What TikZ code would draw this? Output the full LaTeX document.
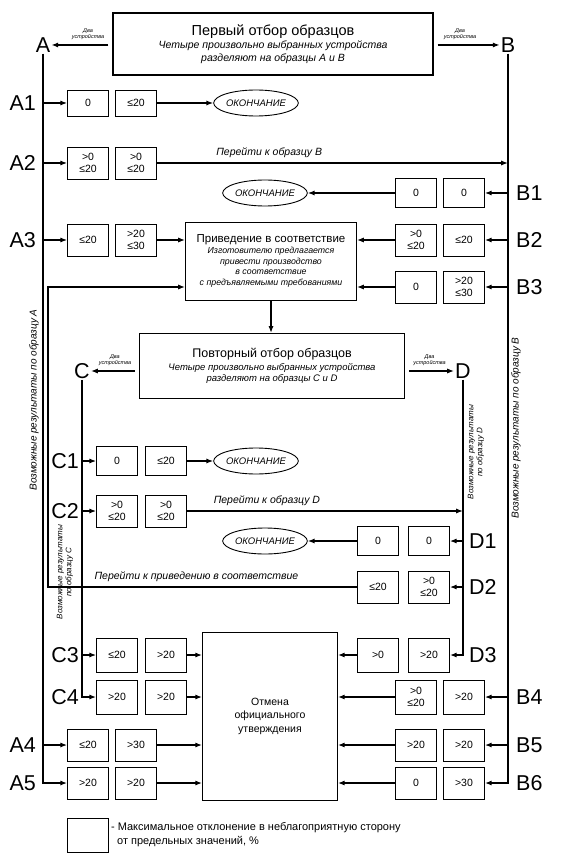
\documentclass[tikz,border=0pt]{standalone}
\usepackage{fontspec}
\setmainfont{Liberation Sans}
\usetikzlibrary{arrows.meta,shapes.geometric}

\begin{document}
\begin{tikzpicture}[x=1pt, y=-1pt,
    >={Latex[length=2.4mm, width=1.8mm]},
    sig/.style={->, line width=1.3pt},
    bus/.style={->, line width=1.6pt},
    val/.style={draw, line width=0.7pt, minimum width=41, minimum height=32,
                inner sep=1pt, align=center, font=\fontsize{10.5}{12}\selectfont},
    main/.style={draw, line width=1.2pt, align=center},
    fin/.style={draw, ellipse, line width=0.9pt, inner sep=0pt, minimum width=78,
                minimum height=26, font=\fontsize{9.5}{10}\selectfont\itshape},
    row/.style={font=\fontsize{21.5}{22}\selectfont, inner sep=1pt},
    hint/.style={font=\fontsize{10.5}{12}\selectfont\itshape},
    two/.style={font=\fontsize{5.5}{6.5}\selectfont\itshape, align=center},
    side/.style={font=\fontsize{10}{11}\selectfont\itshape, rotate=90, align=center},
    tiny/.style={font=\fontsize{8}{9}\selectfont\itshape, rotate=90, align=center},
  ]
  \useasboundingbox (0,0) rectangle (581,858);

  % first sampling
  \node[main, minimum width=320, minimum height=62, font=\fontsize{10.5}{12.5}\selectfont\itshape]
    (first) at (273,44) {{\upshape\fontsize{14.5}{17}\selectfont Первый отбор образцов}\\[1pt]
    Четыре произвольно выбранных устройства\\разделяют на образцы A и B};
  \node[row] (A) at (43,45) {A};
  \node[row] (B) at (508,45) {B};
  \draw[sig, shorten <=4pt] (first.west |- A) -- node[two, above=1pt, pos=0.4] {Два\\устройства} (A.east);
  \draw[sig, shorten <=4pt] (first.east |- B) -- node[two, above=1pt, pos=0.4] {Два\\устройства} (B.west);

  % sample A and sample B
  \node[row, anchor=east] (lA1) at (37,103) {A1};
  \node[val, minimum height=26] (a1l) at (88,103) {0};
  \node[val, minimum height=26] (a1r) at (136,103) {≤20};
  \node[fin] (endA) at (256,103) {ОКОНЧАНИЕ};

  \node[row, anchor=east] (lA2) at (37,163) {A2};
  \node[val] (a2l) at (88,163) {>0\\≤20};
  \node[val] (a2r) at (136,163) {>0\\≤20};

  \node[row, anchor=west] (lB1) at (515,193) {B1};
  \node[val, minimum height=29] (b1l) at (416,193) {0};
  \node[val, minimum height=29] (b1r) at (464,193) {0};
  \node[fin] (endB) at (265,193) {ОКОНЧАНИЕ};

  \node[row, anchor=east] (lA3) at (37,240) {A3};
  \node[val] (a3l) at (88,240) {≤20};
  \node[val] (a3r) at (136,240) {>20\\≤30};

  \node[row, anchor=west] (lB2) at (515,240) {B2};
  \node[val] (b2l) at (416,240) {>0\\≤20};
  \node[val] (b2r) at (464,240) {≤20};

  \node[row, anchor=west] (lB3) at (515,287) {B3};
  \node[val] (b3l) at (416,287) {0};
  \node[val] (b3r) at (464,287) {>20\\≤30};

  \node[main, line width=0.9pt, minimum width=171, minimum height=78,
        font=\fontsize{8.8}{10.6}\selectfont\itshape] (fix) at (271,261)
    {{\upshape\fontsize{11.5}{14}\selectfont Приведение в соответствие}\\
     Изготовителю предлагается\\привести производство\\в соответствие\\с предъявляемыми требованиями};

  % second sampling
  \node[main, minimum width=265, minimum height=65, font=\fontsize{9.5}{11.5}\selectfont\itshape]
    (second) at (272,366) {{\upshape\fontsize{12.5}{15}\selectfont Повторный отбор образцов}\\[1pt]
    Четыре произвольно выбранных устройства\\разделяют на образцы C и D};
  \node[row] (C) at (82,371) {C};
  \node[row] (D) at (463,371) {D};
  \draw[sig, shorten <=4pt] (second.west |- C) -- node[two, above=1pt] {Два\\устройства} (C.east);
  \draw[sig, shorten <=4pt] (second.east |- D) -- node[two, above=1pt] {Два\\устройства} (D.west);

  \node[row, anchor=east] (lC1) at (80,461) {C1};
  \node[val, minimum height=29] (c1l) at (117,461) {0};
  \node[val, minimum height=29] (c1r) at (166,461) {≤20};
  \node[fin] (endC) at (256,461) {ОКОНЧАНИЕ};

  \node[row, anchor=east] (lC2) at (80,511) {C2};
  \node[val] (c2l) at (117,511) {>0\\≤20};
  \node[val] (c2r) at (166,511) {>0\\≤20};

  \node[row, anchor=west] (lD1) at (468,541) {D1};
  \node[val, minimum height=29] (d1l) at (378,541) {0};
  \node[val, minimum height=29] (d1r) at (429,541) {0};
  \node[fin] (endD) at (265,541) {ОКОНЧАНИЕ};

  \node[row, anchor=west] (lD2) at (468,587) {D2};
  \node[val] (d2l) at (378,587) {≤20};
  \node[val] (d2r) at (429,587) {>0\\≤20};

  \node[row, anchor=east] (lC3) at (80,655) {C3};
  \node[val, minimum height=34] (c3l) at (117,655) {≤20};
  \node[val, minimum height=34] (c3r) at (166,655) {>20};

  \node[row, anchor=west] (lD3) at (468,655) {D3};
  \node[val, minimum height=34] (d3l) at (378,655) {>0};
  \node[val, minimum height=34] (d3r) at (429,655) {>20};

  \node[row, anchor=east] (lC4) at (80,697) {C4};
  \node[val, minimum height=34] (c4l) at (117,697) {>20};
  \node[val, minimum height=34] (c4r) at (166,697) {>20};

  \node[row, anchor=west] (lB4) at (515,697) {B4};
  \node[val, minimum height=34] (b4l) at (416,697) {>0\\≤20};
  \node[val, minimum height=34] (b4r) at (464,697) {>20};

  \node[row, anchor=east] (lA4) at (37,745) {A4};
  \node[val] (a4l) at (88,745) {≤20};
  \node[val] (a4r) at (136,745) {>30};

  \node[row, anchor=west] (lB5) at (515,745) {B5};
  \node[val] (b5l) at (416,745) {>20};
  \node[val] (b5r) at (464,745) {>20};

  \node[row, anchor=east] (lA5) at (37,783) {A5};
  \node[val] (a5l) at (88,783) {>20};
  \node[val] (a5r) at (136,783) {>20};

  \node[row, anchor=west] (lB6) at (515,783) {B6};
  \node[val] (b6l) at (416,783) {0};
  \node[val] (b6r) at (464,783) {>30};

  \node[main, line width=0.8pt, minimum width=135, minimum height=168,
        font=\fontsize{10.5}{13.5}\selectfont] (cancel) at (270,716)
    {Отмена\\официального\\утверждения};

  % side captions
  \node[side] (resA) at (34,400) {Возможные результаты по образцу A};
  \node[side] (resB) at (516,428) {Возможные результаты по образцу B};
  \node[tiny] (resD) at (476,452) {Возможные результаты\\по образцу D};
  \node[tiny] (resC) at (65,572) {Возможные результаты\\по образцу C};

  % buses
  \draw[bus] (A.south) |- (a5l.west);
  \draw[bus] (B.south) |- (b6r.east);
  \draw[bus] (C.south) |- (c4l.west);
  \draw[bus] (D.south) |- (d3r.east);
  \draw[sig] (A.south |- a1l) -- (a1l.west);
  \draw[sig] (A.south |- a2l) -- (a2l.west);
  \draw[sig] (A.south |- a3l) -- (a3l.west);
  \draw[sig] (A.south |- a4l) -- (a4l.west);
  \draw[sig] (B.south |- b1r) -- (b1r.east);
  \draw[sig] (B.south |- b2r) -- (b2r.east);
  \draw[sig] (B.south |- b3r) -- (b3r.east);
  \draw[sig] (B.south |- b4r) -- (b4r.east);
  \draw[sig] (B.south |- b5r) -- (b5r.east);
  \draw[sig] (C.south |- c1l) -- (c1l.west);
  \draw[sig] (C.south |- c2l) -- (c2l.west);
  \draw[sig] (C.south |- c3l) -- (c3l.west);
  \draw[sig] (D.south |- d1r) -- (d1r.east);
  \draw[sig] (D.south |- d2r) -- (d2r.east);

  % results
  \draw[sig] (a1r.east) -- (endA.west);
  \draw[sig] (b1l.west) -- (endB.east);
  \draw[sig] (c1r.east) -- (endC.west);
  \draw[sig] (d1l.west) -- (endD.east);
  \draw[sig] (a2r.east) -- node[hint, above=1pt, pos=0.32] {Перейти к образцу B} (a2r.east -| B.south);
  \draw[sig] (c2r.east) -- node[hint, above=1pt, pos=0.29] {Перейти к образцу D} (c2r.east -| D.south);
  \draw[sig] (a3r.east) -- (fix.west |- a3r);
  \draw[sig] (b2l.west) -- (fix.east |- b2l);
  \draw[sig] (b3l.west) -- (fix.east |- b3l);
  \coordinate (back) at (48,587);
  \draw[sig] (d2l.west) -- node[hint, above=1pt, pos=0.52] {Перейти к приведению в соответствие} (back)
             |- (fix.west |- b3l);
  \draw[sig] (fix.south) -- (fix.south |- second.north);
  \draw[sig] (c3r.east) -- (cancel.west |- c3r);
  \draw[sig] (c4r.east) -- (cancel.west |- c4r);
  \draw[sig] (a4r.east) -- (cancel.west |- a4r);
  \draw[sig] (a5r.east) -- (cancel.west |- a5r);
  \draw[sig] (d3l.west) -- (cancel.east |- d3l);
  \draw[sig] (b4l.west) -- (cancel.east |- b4l);
  \draw[sig] (b5l.west) -- (cancel.east |- b5l);
  \draw[sig] (b6l.west) -- (cancel.east |- b6l);

  % legend
  \node[val, minimum height=34] (key) at (88,835) {};
  \node[anchor=west, align=left, inner sep=2pt, font=\fontsize{11}{14}\selectfont] (keytext)
    at (key.east) {- Максимальное отклонение в неблагоприятную сторону\\\ \ от предельных значений, \%};
\end{tikzpicture}
\end{document}
